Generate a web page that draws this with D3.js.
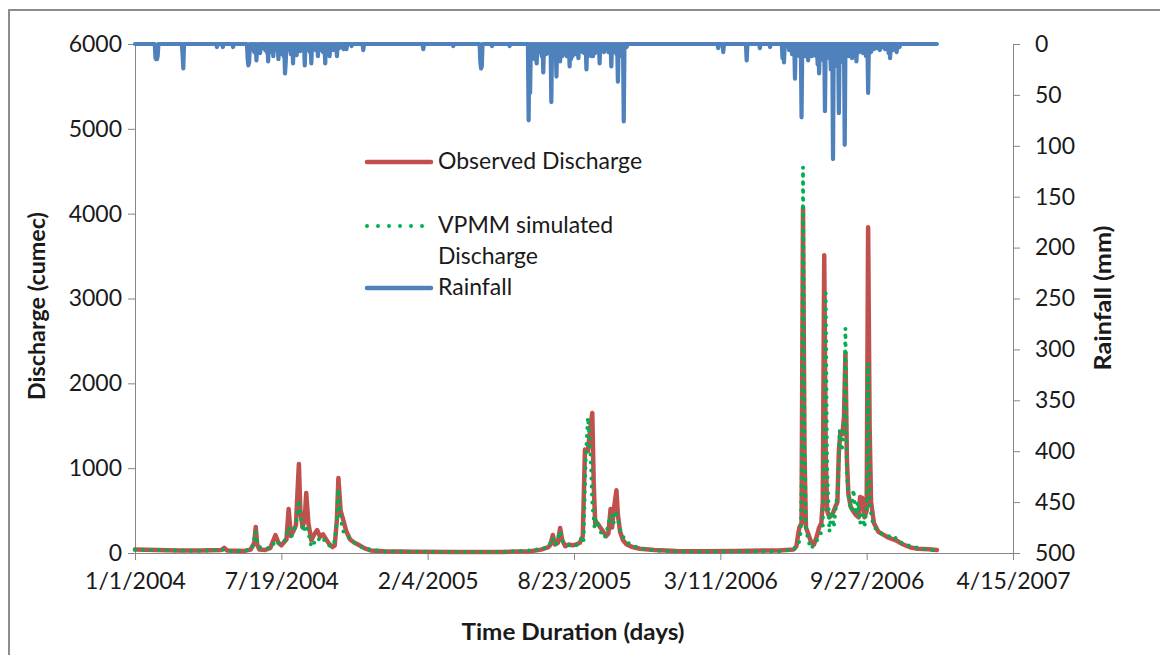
<!DOCTYPE html>
<html><head><meta charset="utf-8">
<script src="https://cdn.jsdelivr.net/npm/d3@7"></script>
<style>body{margin:0;background:#fff}svg{display:block}</style>
</head><body><svg id="c" width="1160" height="655"></svg>
<script>
// ---- data (x = days counted from 1/1/2004) ----
const xTickDays = [0, 200, 400, 600, 800, 1000, 1200];
const xTickLabels = ["1/1/2004", "7/19/2004", "2/4/2005", "8/23/2005", "3/11/2006", "9/27/2006", "4/15/2007"];
const dischargeTicks = [0, 1000, 2000, 3000, 4000, 5000, 6000];
const rainTicks = [0, 50, 100, 150, 200, 250, 300, 350, 400, 450, 500];
const lastDay = 1096;

// Observed discharge (cumec): [day, value]
const observed = [[0,40],[30,35],[60,30],[90,30],[118,35],[122,60],[126,30],[150,25],[158,40],[163,120],[165,306],[167,100],[170,40],[178,35],[185,60],[192,212],[196,120],[200,90],[207,160],[210,519],[213,200],[216,250],[220,330],[222,700],[224,1050],[226,500],[229,300],[232,400],[234,707],[237,350],[241,150],[245,220],[249,270],[253,190],[257,220],[262,150],[266,100],[270,70],[273,90],[276,400],[278,884],[281,500],[285,380],[289,250],[294,160],[300,120],[307,90],[314,55],[322,30],[340,20],[380,15],[440,12],[500,12],[540,20],[555,40],[565,70],[568,100],[571,212],[574,100],[578,120],[581,295],[584,150],[588,80],[593,100],[598,90],[603,100],[608,120],[612,200],[615,1220],[619,1200],[622,1450],[625,1650],[627,800],[629,350],[632,350],[636,300],[640,250],[644,200],[647,230],[650,520],[652,300],[655,550],[658,740],[660,450],[663,250],[667,150],[672,100],[680,70],[690,50],[710,35],[740,25],[780,20],[820,25],[860,30],[880,30],[890,35],[900,40],[904,80],[906,200],[908,300],[911,350],[913,4070],[915,1200],[917,300],[920,230],[924,130],[928,100],[932,200],[935,300],[938,350],[940,600],[942,3510],[944,1200],[946,500],[949,420],[953,450],[957,540],[960,600],[962,1200],[964,1415],[967,1400],[969,1600],[971,2360],[973,1100],[975,700],[978,550],[981,500],[985,450],[989,420],[991,660],[994,650],[997,420],[1000,500],[1002,3840],[1004,1500],[1006,600],[1010,350],[1016,250],[1022,220],[1030,180],[1040,150],[1050,100],[1060,65],[1070,50],[1085,45],[1096,35]];

// VPMM simulated discharge (cumec): [day, value]
const simulated = [[0,40],[30,35],[60,30],[90,25],[120,40],[126,25],[150,25],[160,50],[165,250],[168,80],[175,50],[185,60],[193,150],[198,100],[205,150],[210,306],[214,200],[218,280],[221,400],[224,625],[227,400],[230,250],[234,330],[238,200],[241,70],[245,120],[250,180],[254,130],[258,160],[262,100],[268,80],[272,100],[275,300],[278,755],[281,400],[285,250],[290,200],[296,150],[303,100],[312,60],[322,40],[340,20],[380,15],[440,12],[500,12],[540,30],[555,50],[565,70],[571,180],[575,90],[581,260],[585,120],[590,100],[598,80],[606,100],[611,200],[613,150],[616,1100],[619,1600],[621,1400],[623,1100],[625,600],[628,300],[631,400],[634,300],[638,220],[642,180],[646,300],[650,450],[654,350],[657,500],[660,400],[664,250],[668,180],[674,120],[682,80],[692,50],[710,30],[740,20],[780,15],[820,20],[860,20],[880,20],[900,40],[907,100],[910,250],[912,1500],[913,4550],[915,1500],[917,300],[920,150],[924,50],[928,100],[932,150],[936,200],[940,300],[942,1500],[944,3060],[946,1000],[949,250],[952,500],[955,300],[958,550],[961,800],[963,1450],[966,1200],[969,1500],[971,2650],[973,900],[976,600],[979,500],[982,750],[985,450],[988,600],[991,350],[994,450],[997,300],[1000,550],[1002,2240],[1004,600],[1007,400],[1011,300],[1016,250],[1022,220],[1030,200],[1036,160],[1040,180],[1045,130],[1050,110],[1060,80],[1070,60],[1085,40],[1096,30]];

// Rainfall (mm) on wet days: [day, mm]; every other day up to lastDay was dry (0 mm)
const rain2004 = [[28,14],[29,15],[30,15],[31,12],[65,10],[66,24],[112,3],[120,3],[134,3],[154,15],[155,21],[156,18],[158,6],[160,4],[163,8],[166,16],[168,5],[171,9],[173,3],[175,4],[178,6],[180,8],[182,17],[185,5],[187,8],[189,12],[192,4],[194,6],[196,15],[199,5],[201,10],[203,12],[205,29],[206,18],[208,6],[210,4],[213,10],[216,19],[219,5],[221,11],[223,4],[226,7],[229,5],[232,21],[235,6],[237,5],[239,8],[241,19],[244,5],[247,6],[250,12],[253,6],[255,4],[257,8],[260,19],[263,5],[266,12],[269,4],[271,6],[273,3],[276,12],[279,4],[282,3],[285,5],[289,5],[296,2],[312,6]];
const rain2005 = [[394,5],[435,2],[472,18],[473,24],[474,22],[488,2],[512,2],[538,75],[540,48],[542,6],[544,10],[546,15],[549,19],[551,6],[553,8],[556,12],[558,28],[560,6],[562,10],[564,5],[566,9],[569,57],[571,8],[573,10],[576,32],[578,6],[581,17],[584,12],[586,9],[588,8],[590,12],[592,8],[594,22],[596,15],[598,12],[600,8],[602,10],[604,6],[606,14],[608,7],[610,5],[612,8],[614,9],[617,25],[619,12],[621,6],[624,12],[626,12],[629,9],[631,4],[633,8],[635,19],[638,7],[641,8],[644,5],[647,8],[649,7],[651,22],[654,5],[656,8],[658,10],[660,37],[663,8],[665,12],[668,76],[672,3]];
const rain2006 = [[797,4],[804,8],[836,16],[854,4],[868,3],[885,14],[887,18],[894,6],[898,10],[900,8],[902,34],[905,8],[908,12],[911,72],[913,8],[916,12],[918,9],[920,16],[922,6],[925,12],[927,11],[929,6],[931,12],[933,20],[935,29],[937,8],[939,12],[941,16],[943,66],[945,12],[947,10],[949,14],[951,25],[954,113],[956,12],[958,16],[960,22],[962,68],[964,10],[966,14],[968,18],[970,99],[972,12],[974,8],[976,12],[978,12],[980,14],[982,10],[984,8],[986,17],[988,6],[990,8],[992,5],[995,9],[997,6],[999,12],[1002,48],[1004,6],[1006,8],[1010,5],[1014,4],[1018,6],[1022,3],[1025,5],[1030,9],[1032,14],[1036,6],[1041,8],[1045,3]];

// ---- layout ----
const x = d3.scaleLinear().domain([0, 1200]).range([135, 1013]);
const yL = d3.scaleLinear().domain([0, 6000]).range([553, 44]);
const yR = d3.scaleLinear().domain([0, 500]).range([44, 553]);

const svg = d3.select("#c");
const FONT = "Lato, 'Open Sans', sans-serif";
const TXT = "#1a1a1a";
const AX = "#868686";

// outer frame
svg.append("rect").attr("x", 9).attr("y", 10).attr("width", 1200).attr("height", 700)
  .attr("fill", "none").attr("stroke", "#8c8c8c").attr("stroke-width", 2);

function styleAxis(g) {
  g.select(".domain").attr("stroke", AX).attr("stroke-width", 1);
  g.selectAll(".tick line").attr("stroke", AX).attr("stroke-width", 1);
  g.selectAll(".tick text").attr("fill", TXT).attr("font-family", FONT).attr("font-size", 23);
}

const gL = svg.append("g").attr("transform", "translate(135,0)")
  .call(d3.axisLeft(yL).tickValues(dischargeTicks).tickSize(7).tickSizeOuter(0).tickPadding(6).tickFormat(d3.format("d")));
styleAxis(gL);
const gR = svg.append("g").attr("transform", "translate(1013,0)")
  .call(d3.axisRight(yR).tickValues(rainTicks).tickSize(7).tickSizeOuter(0).tickPadding(15).tickFormat(d3.format("d")));
styleAxis(gR);
const gB = svg.append("g").attr("transform", "translate(0,553)")
  .call(d3.axisBottom(x).tickValues(xTickDays).tickSize(7).tickSizeOuter(0).tickPadding(13)
    .tickFormat((d, i) => xTickLabels[i]));
styleAxis(gB);

// series
const rainMap = new Map([...rain2004, ...rain2005, ...rain2006]);
const rain = d3.range(0, lastDay + 1).map(d => [d, rainMap.get(d) || 0]);

const lineL = d3.line().x(d => x(d[0])).y(d => yL(d[1]));
const lineR = d3.line().x(d => x(d[0])).y(d => yR(d[1]));

svg.append("path").datum(observed).attr("d", lineL).attr("fill", "none")
  .attr("stroke", "#c0504d").attr("stroke-width", 4.5).attr("stroke-linejoin", "round").attr("stroke-linecap", "round");
svg.append("path").datum(simulated).attr("d", lineL).attr("fill", "none")
  .attr("stroke", "#00b050").attr("stroke-width", 4).attr("stroke-dasharray", "0,8")
  .attr("stroke-linecap", "round").attr("stroke-linejoin", "round");
svg.append("path").datum(rain).attr("d", lineR).attr("fill", "none")
  .attr("stroke", "#4f81bd").attr("stroke-width", 4.2).attr("stroke-linejoin", "round").attr("stroke-linecap", "round");

// axis titles
svg.append("text").attr("x", 573).attr("y", 640).attr("text-anchor", "middle")
  .attr("font-family", FONT).attr("font-weight", "bold").attr("font-size", 23).attr("fill", TXT)
  .attr("textLength", 223).attr("lengthAdjust", "spacingAndGlyphs")
  .text("Time Duration (days)");
svg.append("text").attr("transform", "translate(45,306) rotate(-90)").attr("text-anchor", "middle")
  .attr("font-family", FONT).attr("font-weight", "bold").attr("font-size", 22).attr("fill", TXT)
  .attr("textLength", 188).attr("lengthAdjust", "spacingAndGlyphs")
  .text("Discharge (cumec)");
svg.append("text").attr("transform", "translate(1111,298) rotate(-90)").attr("text-anchor", "middle")
  .attr("font-family", FONT).attr("font-weight", "bold").attr("font-size", 22).attr("fill", TXT)
  .attr("textLength", 145).attr("lengthAdjust", "spacingAndGlyphs")
  .text("Rainfall (mm)");

// legend
const legendItems = [
  {label: ["Observed Discharge"], color: "#c0504d", dash: null, y: 162},
  {label: ["VPMM simulated", "Discharge"], color: "#00b050", dash: "0,11", y: 226},
  {label: ["Rainfall"], color: "#4f81bd", dash: null, y: 288}
];
const lg = svg.append("g");
legendItems.forEach(it => {
  lg.append("line").attr("x1", 367).attr("x2", 431).attr("y1", it.y).attr("y2", it.y)
    .attr("stroke", it.color).attr("stroke-width", it.dash ? 4 : 4.5)
    .attr("stroke-linecap", "round").attr("stroke-dasharray", it.dash);
  it.label.forEach((t, j) => {
    lg.append("text").attr("x", 438).attr("y", it.y + 7 + j * 31)
      .attr("font-family", FONT).attr("font-size", 23).attr("fill", TXT).text(t);
  });
});
</script></body></html>
